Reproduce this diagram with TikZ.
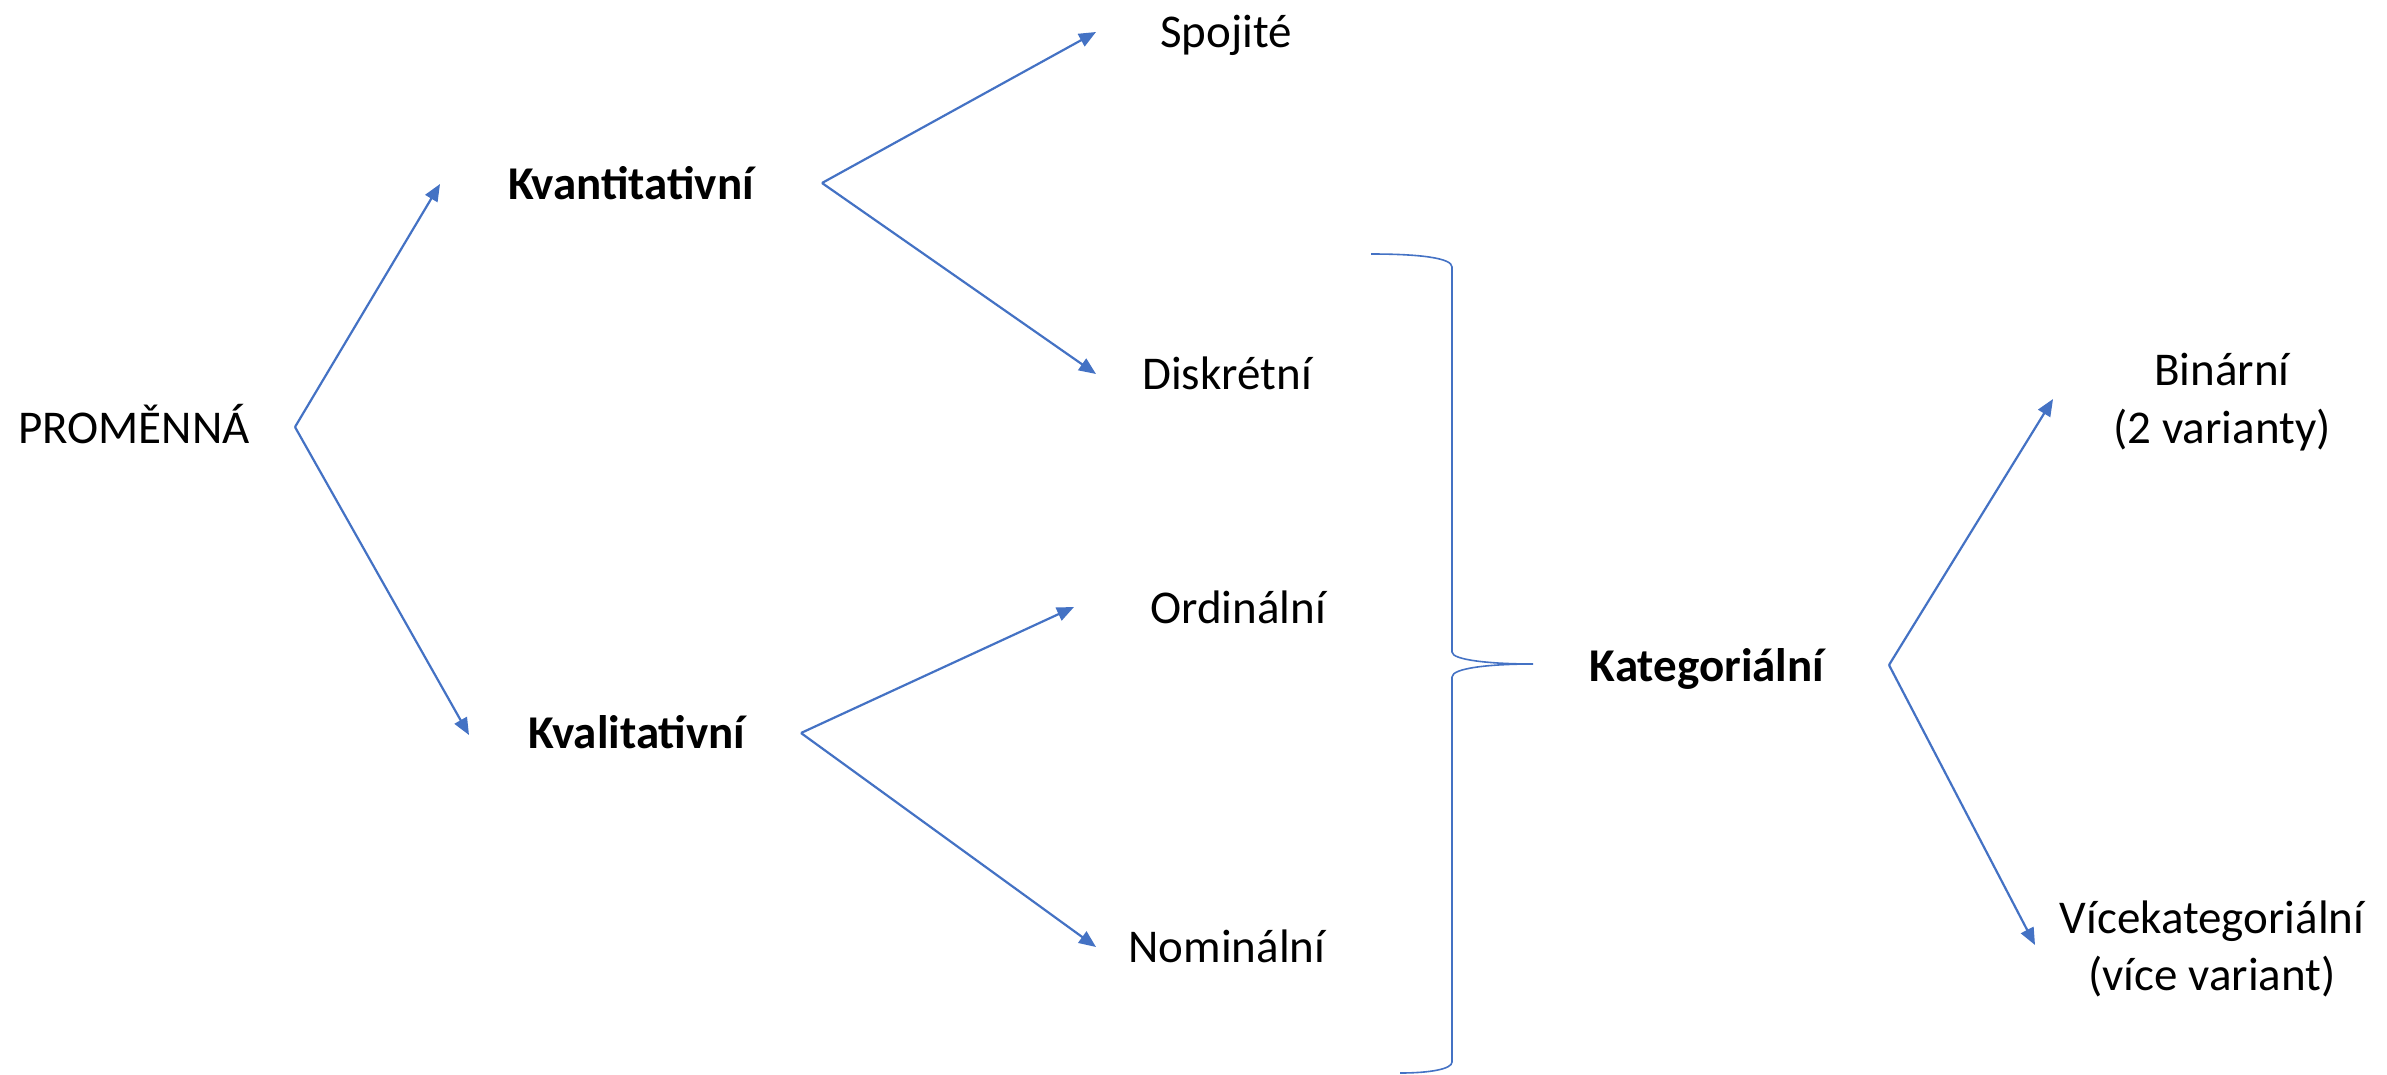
\documentclass[tikz,border=0pt]{standalone}
\usepackage{fontspec}
\setmainfont{Carlito}
\usetikzlibrary{arrows.meta}
\definecolor{obl}{HTML}{4472C4}
\begin{document}
\begin{tikzpicture}[x=1pt,y=-1pt,
  lbl/.style={inner sep=0pt,anchor=base,font=\fontsize{47}{57}\selectfont},
  blbl/.style={lbl,font=\fontsize{47}{57}\selectfont\bfseries},
  arr/.style={draw=obl,line width=2.2pt,-{Triangle[length=17pt,width=14pt]}},
  brc/.style={draw=obl,line width=1.6pt}]
\useasboundingbox (0,0) rectangle (2387,1074);
% nodes
\node[lbl] (prom) at (134,443) {PROMĚNNÁ};
\node[blbl] (kvant) at (631,199) {Kvantitativní};
\node[blbl] (kval) at (637,748) {Kvalitativní};
\node[lbl] (spoj) at (1226,47) {Spojité};
\node[lbl] (disk) at (1227,389) {Diskrétní};
\node[lbl] (ord) at (1238,623) {Ordinální};
\node[lbl] (nom) at (1227,962) {Nominální};
\node[blbl] (kat) at (1707,681) {Kategoriální};
\node[lbl] (bin) at (2222,385) {Binární};
\node[lbl] (bin2) at (2222,443) {(2 varianty)};
\node[lbl] (vic) at (2212,933) {Vícekategoriální};
\node[lbl] (vic2) at (2212,990) {(více variant)};
% vertices and tips
\coordinate (vp) at (295,427);
\coordinate (tkvant) at (440,184);
\coordinate (tkval) at (469,735);
\coordinate (vkvant) at (822,183);
\coordinate (tspoj) at (1096,32);
\coordinate (tdisk) at (1096,374);
\coordinate (vkval) at (801,733);
\coordinate (tord) at (1074,607);
\coordinate (tnom) at (1096,947);
\coordinate (vkat) at (1889,665);
\coordinate (tbin) at (2053,399);
\coordinate (tvic) at (2035,945);
% arrows
\draw[arr] (vp) -- (tkvant);
\draw[arr] (vp) -- (tkval);
\draw[arr] (vkvant) -- (tspoj);
\draw[arr] (vkvant) -- (tdisk);
\draw[arr] (vkval) -- (tord);
\draw[arr] (vkval) -- (tnom);
\draw[arr] (vkat) -- (tbin);
\draw[arr] (vkat) -- (tvic);
% brace
\coordinate (btop) at (1371,254);
\coordinate (btip) at (1533,664);
\coordinate (bbot) at (1400,1073);
\draw[brc] (btop) .. controls (1420,254) and (1452,258) .. (1452,267)
  -- (1452,652) .. controls (1452,660) and (1490,664) .. (btip)
  .. controls (1490,664) and (1452,668) .. (1452,677)
  -- (1452,1062) .. controls (1452,1069) and (1430,1073) .. (bbot);
\end{tikzpicture}
\end{document}
